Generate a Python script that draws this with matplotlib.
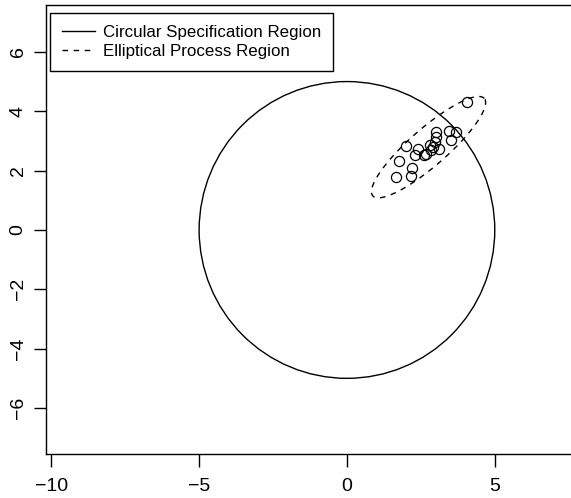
import numpy as np
import matplotlib
matplotlib.use("Agg")
import matplotlib.pyplot as plt
from matplotlib.lines import Line2D
from matplotlib.patches import Circle

# Observed process points
px = [4.05, 3.44, 3.69, 3.02, 3.53, 3.00, 2.98, 2.00, 2.42, 2.91,
      3.11, 2.84, 2.29, 2.68, 2.62, 1.76, 2.19, 1.67, 2.16, 2.80]
py = [4.32, 3.33, 3.31, 3.30, 3.02, 3.13, 2.98, 2.84, 2.74, 2.78,
      2.72, 2.69, 2.51, 2.56, 2.51, 2.32, 2.08, 1.77, 1.83, 2.86]

# Circular specification region
spec_center = (0.0, 0.0)
spec_radius = 5.0

# Elliptical process region
ell_center = (2.76, 2.79)
ell_a = 2.5
ell_b = 0.63
ell_angle_deg = 41.0

xticks = [-10, -5, 0, 5]
yticks = [-6, -4, -2, 0, 2, 4, 6]
labels = ["Circular Specification Region", "Elliptical Process Region"]

plt.rcParams['font.family'] = ['Liberation Sans', 'DejaVu Sans']

W, H = 571, 498
fig = plt.figure(figsize=(W / 100, H / 100), dpi=100)
ax_left, ax_right, ax_top, ax_bot = 46, 574, 5, 454
ax = fig.add_axes([ax_left / W, (H - ax_bot) / H, (ax_right - ax_left) / W,
                   (ax_bot - ax_top) / H])

ax.add_patch(Circle(spec_center, spec_radius, fill=False,
                    edgecolor='black', lw=1.0))

t = np.linspace(0, 2 * np.pi, 400)
th = np.deg2rad(ell_angle_deg)
ex = ell_center[0] + ell_a * np.cos(t) * np.cos(th) - ell_b * np.sin(t) * np.sin(th)
ey = ell_center[1] + ell_a * np.cos(t) * np.sin(th) + ell_b * np.sin(t) * np.cos(th)
ax.plot(ex, ey, color='black', lw=1.0, linestyle=(0, (4, 4)))

ax.plot(px, py, linestyle='none', marker='o', markersize=7.3,
        markerfacecolor='none', markeredgecolor='black', markeredgewidth=0.9)

ax.set_xlim(-10.18, 7.68)
ax.set_ylim(-7.55, 7.58)
ax.set_xticks(xticks)
ax.set_yticks(yticks)
ax.set_xticklabels([str(v).replace('-', '\u2212') for v in xticks])
ax.set_yticklabels([str(v).replace('-', '\u2212') for v in yticks],
                   rotation=90, va='center')
ax.tick_params(axis='both', direction='out', length=9, width=1.0,
               labelsize=14, color='black')
ax.tick_params(axis='x', pad=8)
ax.tick_params(axis='y', pad=5)
for s in ax.spines.values():
    s.set_linewidth(1.0)

aw = ax_right - ax_left
ah = ax_bot - ax_top
handles = [Line2D([], [], color='black', lw=1.0),
           Line2D([], [], color='black', lw=1.0, linestyle=(0, (4, 4)))]
leg = ax.legend(handles, labels, loc='upper left',
                bbox_to_anchor=(4 / aw, 1 - 7.7 / ah),
                borderaxespad=0, fontsize=12.2, handlelength=1.95,
                handletextpad=0.45, borderpad=0.7, labelspacing=0.25,
                fancybox=False, framealpha=1, edgecolor='black')
leg.get_frame().set_linewidth(1.0)

fig.savefig("out.png", dpi=100)
